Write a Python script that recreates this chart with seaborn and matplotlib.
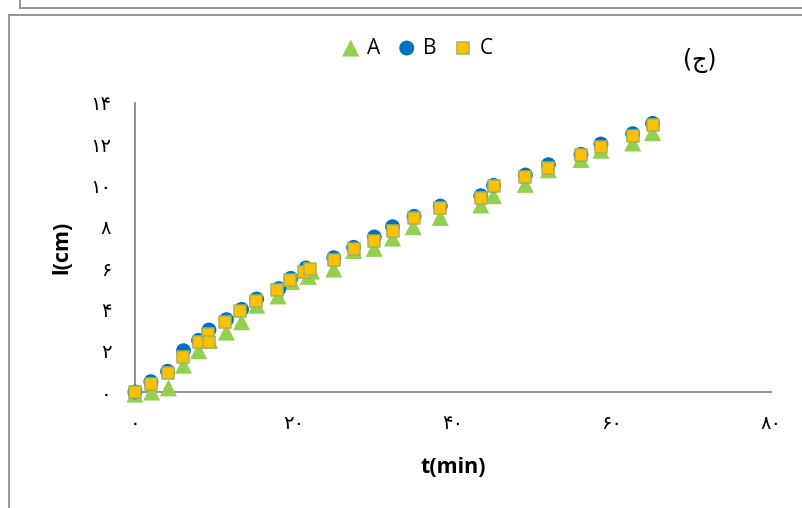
import matplotlib
matplotlib.use("Agg")
import matplotlib.pyplot as plt
import seaborn as sns
import pandas as pd
from matplotlib.lines import Line2D

# ---- data ----
A_t = [0, 2.1, 4.2, 6.1, 8.0, 9.4, 11.5, 13.4, 15.3, 18.0, 19.7, 21.8, 22.2, 25.0, 27.5,
       30.1, 32.4, 35.0, 38.4, 43.5, 45.1, 49.1, 52.0, 56.1, 58.6, 62.6, 65.1]
A_l = [-0.1, 0.0, 0.2, 1.3, 2.0, 2.5, 2.9, 3.4, 4.2, 4.65, 5.35, 5.6, 5.85, 5.95, 6.85,
       6.95, 7.45, 8.0, 8.45, 9.05, 9.5, 10.05, 10.75, 11.25, 11.7, 12.05, 12.55]

B_t = [0, 2.0, 4.1, 6.1, 8.0, 9.3, 11.5, 13.4, 15.3, 18.1, 19.6, 21.5, 25.0, 27.5, 30.1,
       32.4, 35.1, 38.4, 43.5, 45.1, 49.1, 52.0, 56.1, 58.6, 62.6, 65.1]
B_l = [0, 0.5, 1.0, 2.0, 2.5, 3.0, 3.5, 4.0, 4.5, 5.0, 5.5, 6.0, 6.5, 7.0, 7.5,
       8.0, 8.5, 9.0, 9.5, 10.0, 10.5, 11.0, 11.5, 12.0, 12.5, 13.0]

C_t = [0, 2.0, 4.1, 6.1, 8.0, 9.2, 9.3, 11.3, 13.2, 15.2, 17.9, 19.5, 21.3, 22.0, 25.0,
       27.5, 30.1, 32.4, 35.1, 38.4, 43.5, 45.1, 49.1, 52.0, 56.1, 58.6, 62.6, 65.1]
C_l = [0, 0.4, 0.9, 1.7, 2.4, 2.8, 2.4, 3.4, 3.9, 4.4, 4.95, 5.4, 5.8, 5.95, 6.4,
       6.9, 7.3, 7.8, 8.4, 8.9, 9.4, 9.95, 10.4, 10.85, 11.45, 11.85, 12.4, 12.9]

x_ticks = [0, 20, 40, 60, 80]
y_ticks = [0, 2, 4, 6, 8, 10, 12, 14]
FA = "۰۱۲۳۴۵۶۷۸۹"
def fa(n):
    return "".join(FA[int(c)] for c in str(n))
x_labels = [fa(v) for v in x_ticks]
y_labels = [fa(v) for v in y_ticks]

sns.set_style("white")
plt.rcParams["font.family"] = ["Open Sans", "DejaVu Sans"]
plt.rcParams["text.color"] = "black"
plt.rcParams["axes.labelcolor"] = "black"

W, H = 803, 508
fig = plt.figure(figsize=(W / 100, H / 100), dpi=100)
ax = fig.add_axes([135 / W, 1 - 392 / H, (771 - 135) / W, (392 - 102.7) / H])

dfA = pd.DataFrame({"t": A_t, "l": A_l})
dfB = pd.DataFrame({"t": B_t, "l": B_l})
dfC = pd.DataFrame({"t": C_t, "l": C_l})

sns.scatterplot(data=dfA, x="t", y="l", ax=ax, marker="^", s=150, color="#92D050",
                edgecolor="none", linewidth=0, label="A", clip_on=False, zorder=3)
sns.scatterplot(data=dfB, x="t", y="l", ax=ax, marker="o", s=115, color="#0070C0",
                edgecolor="none", linewidth=0, label="B", clip_on=False, zorder=4)
sns.scatterplot(data=dfC, x="t", y="l", ax=ax, marker="s", s=72, color="#FFC000",
                edgecolor="#A3B35A", linewidth=1.1, label="C", clip_on=False, zorder=5)

ax.set_xlim(0, 80)
ax.set_ylim(0, 14)
ax.set_xticks(x_ticks, labels=x_labels)
ax.set_yticks(y_ticks, labels=y_labels)
for lab in ax.get_xticklabels() + ax.get_yticklabels():
    lab.set_fontfamily("DejaVu Sans")
    lab.set_fontsize(14)
    lab.set_color("black")

for s in ["top", "right"]:
    ax.spines[s].set_visible(False)
for s in ["left", "bottom"]:
    ax.spines[s].set_color("#8a8a8a")
    ax.spines[s].set_linewidth(1.3)
ax.tick_params(axis="both", direction="out", length=6, width=1.1, color="#8a8a8a")
ax.tick_params(axis="y", pad=11)
ax.tick_params(axis="x", pad=10)
ax.grid(False)

ax.set_xlabel("t(min)", fontsize=15.5, fontweight="bold", color="black")
ax.set_ylabel("l(cm)", fontsize=15.5, fontweight="bold", color="black")
ax.xaxis.set_label_coords((453 - 135) / 636, (392 - 457) / 289.3)
ax.yaxis.set_label_coords((72 - 135) / 636, 0.5)

leg = ax.legend(loc="center", bbox_to_anchor=(416 / W, 1 - 48 / H),
                bbox_transform=fig.transFigure, ncol=3, frameon=False,
                fontsize=15, handletextpad=0.25, columnspacing=0.7,
                handlelength=1.1, borderaxespad=0)
for t in leg.get_texts():
    t.set_color("black")

fig.text(700 / W, 1 - 60 / H, "(ج)", fontsize=17, ha="center", va="center",
         family=["DejaVu Sans"], color="black")

# outer frame lines
fc = "#8c8c8c"
fig.add_artist(Line2D([9 / W, 9 / W], [0, 1 - 15 / H], transform=fig.transFigure,
                      color=fc, lw=1.3))
fig.add_artist(Line2D([9 / W, 1], [1 - 15 / H, 1 - 15 / H], transform=fig.transFigure,
                      color=fc, lw=1.3))
fig.add_artist(Line2D([20 / W, 20 / W], [1 - 7.5 / H, 1], transform=fig.transFigure,
                      color=fc, lw=1.3))
fig.add_artist(Line2D([20 / W, 1], [1 - 7.5 / H, 1 - 7.5 / H], transform=fig.transFigure,
                      color=fc, lw=1.3))

fig.savefig("out.png", dpi=100)
